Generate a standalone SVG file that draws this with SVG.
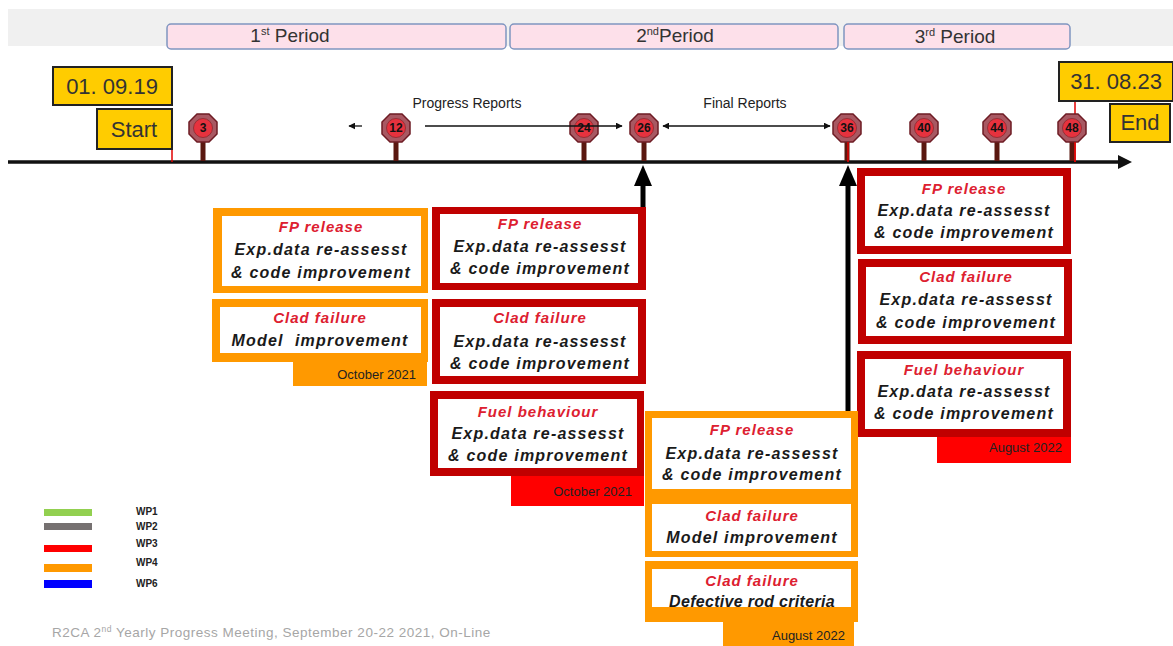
<svg xmlns="http://www.w3.org/2000/svg" xmlns:xlink="http://www.w3.org/1999/xlink" width="1173" height="646" viewBox="0 0 1173 646">
<style>
.per{fill:#fde0ea;stroke:#7f95c0;stroke-width:1.5}
.pert{font-family:"Liberation Sans",Arial,sans-serif;font-size:19px;fill:#333;text-anchor:middle}
.date{fill:#ffcc00;stroke:#222;stroke-width:2}
.datet{font-family:"Liberation Sans",Arial,sans-serif;font-size:22px;fill:#333;text-anchor:middle}
.num{font-family:"Liberation Sans",Arial,sans-serif;font-size:12px;font-weight:bold;fill:#111;text-anchor:middle}
.lbl{font-family:"Liberation Sans",Arial,sans-serif;font-size:14px;fill:#222;text-anchor:middle}
.ob{fill:#ff9900}
.rb{fill:#c00000}
.in{fill:#ffffff}
.ti{font-family:"Liberation Sans",Arial,sans-serif;font-size:15px;font-weight:bold;font-style:italic;fill:#dd2030;text-anchor:middle;letter-spacing:1px}
.bd{font-family:"Liberation Sans",Arial,sans-serif;font-size:16px;font-weight:bold;font-style:italic;fill:#1a1a1a;text-anchor:middle;letter-spacing:1.2px;white-space:pre}
.mo{font-family:"Liberation Sans",Arial,sans-serif;font-size:13px;fill:#222;text-anchor:end}
.wp{font-family:"Liberation Sans",Arial,sans-serif;font-size:10px;font-weight:bold;fill:#222}
</style>
<defs>
<g id="pin">
<rect x="-2.5" y="12" width="5" height="21" fill="#5a1810"/>
<polygon points="-6,-14 6,-14 14,-6 14,6 6,14 -6,14 -14,6 -14,-6" fill="#a85862" stroke="#6e1c24" stroke-width="1.5"/>
<circle cx="0" cy="0" r="9.5" fill="#e6323e" stroke="#8a2a30" stroke-width="0.8"/>
</g>
<marker id="ah" viewBox="0 0 10 10" refX="9" refY="5" markerWidth="7" markerHeight="7" orient="auto-start-reverse" markerUnits="userSpaceOnUse">
<path d="M0,0 L10,5 L0,10 z" fill="#111"/>
</marker>
</defs>
<rect x="0" y="0" width="1173" height="646" fill="#ffffff"/>
<rect x="8" y="9" width="1165" height="37" fill="#f0f0f0"/>

<g id="periods">
<rect class="per" x="167" y="24" width="339" height="25" rx="4"/>
<text class="pert" x="290" y="42">1<tspan font-size="11" dy="-7">st</tspan><tspan dy="7"> Period</tspan></text>
<rect class="per" x="510" y="24" width="328" height="25" rx="4"/>
<text class="pert" x="675" y="42">2<tspan font-size="11" dy="-7">nd</tspan><tspan dy="7">Period</tspan></text>
<rect class="per" x="844" y="24" width="226" height="25" rx="4"/>
<text class="pert" x="955" y="43">3<tspan font-size="11" dy="-7">rd</tspan><tspan dy="7"> Period</tspan></text>
</g>

<g id="connectors">
<line x1="8" y1="162" x2="1122" y2="162" stroke="#111" stroke-width="3.5"/>
<polygon points="1118,155 1132,162 1118,169" fill="#111"/>
<line x1="172" y1="149" x2="172" y2="162" stroke="#e00000" stroke-width="1.5"/>
<line x1="1075" y1="101" x2="1075" y2="162" stroke="#e00000" stroke-width="1.5"/>
<line x1="362" y1="126" x2="349" y2="126" stroke="#111" stroke-width="1.3" marker-end="url(#ah)"/>
<line x1="643" y1="185" x2="643" y2="207" stroke="#000" stroke-width="5"/>
<polygon points="643,165 652,186 634,186" fill="#000"/>
<line x1="848" y1="185" x2="848" y2="411" stroke="#000" stroke-width="5"/>
<polygon points="848,165 857,186 839,186" fill="#000"/>
</g>

<g id="start">
<rect class="date" x="53" y="67" width="119" height="38"/>
<text class="datet" x="112" y="94">01. 09.19</text>
<rect class="date" x="97" y="109" width="75" height="40"/>
<text class="datet" x="134" y="137">Start</text>
</g>
<g id="end">
<rect class="date" x="1059" y="62" width="114" height="39"/>
<text class="datet" x="1116" y="89">31. 08.23</text>
<rect class="date" x="1110" y="104" width="60" height="38"/>
<text class="datet" x="1140" y="130">End</text>
</g>

<g id="m3"><use xlink:href="#pin" x="203" y="128"/><text class="num" x="203" y="132">3</text></g>
<g id="m12"><use xlink:href="#pin" x="396" y="128"/><text class="num" x="396" y="132">12</text></g>
<g id="m24"><use xlink:href="#pin" x="584" y="128"/><text class="num" x="584" y="132">24</text></g>
<g id="m26"><use xlink:href="#pin" x="644" y="128"/><text class="num" x="644" y="132">26</text></g>
<g id="m36"><use xlink:href="#pin" x="847" y="128"/><text class="num" x="847" y="132">36</text><line x1="848" y1="142" x2="848" y2="162" stroke="#e00000" stroke-width="1.5"/></g>
<g id="m40"><use xlink:href="#pin" x="924" y="128"/><text class="num" x="924" y="132">40</text></g>
<g id="m44"><use xlink:href="#pin" x="997" y="128"/><text class="num" x="997" y="132">44</text></g>
<g id="m48"><use xlink:href="#pin" x="1072" y="128"/><text class="num" x="1072" y="132">48</text><line x1="1075" y1="142" x2="1075" y2="162" stroke="#e00000" stroke-width="1.5"/></g>

<g id="reports">
<line x1="425" y1="126" x2="622" y2="126" stroke="#111" stroke-width="1.3" marker-end="url(#ah)"/>
<text class="lbl" x="467" y="108">Progress Reports</text>
<line x1="663" y1="126" x2="830" y2="126" stroke="#111" stroke-width="1.3" marker-start="url(#ah)" marker-end="url(#ah)"/>
<text class="lbl" x="745" y="108">Final Reports</text>
</g>

<g id="boxA">
<rect class="ob" x="213" y="208" width="215" height="85"/>
<rect class="in" x="222" y="216" width="199" height="70"/>
<text class="ti" x="321" y="231.5">FP release</text>
<text class="bd" x="321" y="255">Exp.data re-assesst</text>
<text class="bd" x="321" y="278">&amp; code improvement</text>
</g>
<g id="boxB">
<rect class="ob" x="212" y="299" width="216" height="63"/>
<rect class="in" x="220" y="307" width="201" height="46"/>
<text class="ti" x="320" y="322.5">Clad failure</text>
<text class="bd" x="320" y="346">Model  improvement</text>
<rect class="ob" x="293" y="362" width="134" height="24"/>
<text class="mo" x="416" y="378.5">October 2021</text>
</g>

<g id="boxC">
<rect class="rb" x="432" y="207" width="214" height="83"/>
<rect class="in" x="440" y="214" width="198" height="69"/>
<text class="ti" x="540" y="229">FP release</text>
<text class="bd" x="540" y="252">Exp.data re-assesst</text>
<text class="bd" x="540" y="274">&amp; code improvement</text>
</g>
<g id="boxD">
<rect class="rb" x="432" y="299" width="214" height="85"/>
<rect class="in" x="440" y="307" width="198" height="69"/>
<text class="ti" x="540" y="322.5">Clad failure</text>
<text class="bd" x="540" y="347">Exp.data re-assesst</text>
<text class="bd" x="540" y="369">&amp; code improvement</text>
</g>
<g id="boxE">
<rect class="rb" x="430" y="391" width="214" height="85"/>
<rect class="in" x="438" y="399" width="199" height="69"/>
<text class="ti" x="538" y="416.5">Fuel behaviour</text>
<text class="bd" x="538" y="439">Exp.data re-assesst</text>
<text class="bd" x="538" y="461">&amp; code improvement</text>
<rect x="511" y="476" width="133" height="30" fill="#ff0000"/>
<text class="mo" x="632" y="495.5">October 2021</text>
</g>

<g id="boxF">
<rect class="rb" x="857" y="168" width="214" height="86"/>
<rect class="in" x="865" y="176" width="198" height="70"/>
<text class="ti" x="964" y="193.5">FP release</text>
<text class="bd" x="964" y="216">Exp.data re-assesst</text>
<text class="bd" x="964" y="238">&amp; code improvement</text>
</g>
<g id="boxG">
<rect class="rb" x="858" y="259" width="214" height="85"/>
<rect class="in" x="866" y="267" width="198" height="69"/>
<text class="ti" x="966" y="281.5">Clad failure</text>
<text class="bd" x="966" y="305">Exp.data re-assesst</text>
<text class="bd" x="966" y="328">&amp; code improvement</text>
</g>
<g id="boxH">
<rect class="rb" x="857" y="351" width="214" height="86"/>
<rect class="in" x="865" y="359" width="198" height="70"/>
<text class="ti" x="964" y="374.5">Fuel behaviour</text>
<text class="bd" x="964" y="397">Exp.data re-assesst</text>
<text class="bd" x="964" y="419">&amp; code improvement</text>
<rect x="937" y="437" width="134" height="26" fill="#ff0000"/>
<text class="mo" x="1062" y="451.5">August 2022</text>
</g>

<g id="boxI">
<rect class="ob" x="645" y="411" width="213" height="146"/>
<rect class="in" x="652" y="418" width="199" height="71"/>
<text class="ti" x="752" y="434.5">FP release</text>
<text class="bd" x="752" y="458.5">Exp.data re-assesst</text>
<text class="bd" x="752" y="480">&amp; code improvement</text>
<rect class="in" x="652" y="504" width="199" height="47"/>
<text class="ti" x="752" y="520.5">Clad failure</text>
<text class="bd" x="752" y="543">Model improvement</text>
</g>
<g id="boxJ">
<rect class="ob" x="645" y="561" width="213" height="61"/>
<rect class="in" x="652" y="569" width="199" height="38"/>
<text class="ti" x="752" y="585.5">Clad failure</text>
<text class="bd" x="752" y="607" style="letter-spacing:0.3px">Defective rod criteria</text>
<rect class="ob" x="723" y="622" width="131" height="24"/>
<text class="mo" x="845" y="639.5">August 2022</text>
</g>

<g id="legend">
<rect x="44" y="509" width="48" height="7" fill="#92d050"/>
<rect x="44" y="523" width="48" height="7" fill="#767171"/>
<rect x="44" y="545" width="48" height="7" fill="#ff0000"/>
<rect x="44" y="564" width="48" height="8" fill="#ff9900"/>
<rect x="44" y="580" width="48" height="8" fill="#0000ff"/>
<text class="wp" x="136" y="514.5">WP1</text>
<text class="wp" x="136" y="529.5">WP2</text>
<text class="wp" x="136" y="546.5">WP3</text>
<text class="wp" x="136" y="565.5">WP4</text>
<text class="wp" x="136" y="586.5">WP6</text>
</g>

<text x="52" y="637" font-family="'Liberation Sans',Arial,sans-serif" font-size="13.5" letter-spacing="0.5" fill="#a6a6a6">R2CA 2<tspan font-size="8.5" dy="-5">nd</tspan><tspan dy="5"> Yearly Progress Meeting, September 20-22 2021, On-Line</tspan></text>
</svg>
